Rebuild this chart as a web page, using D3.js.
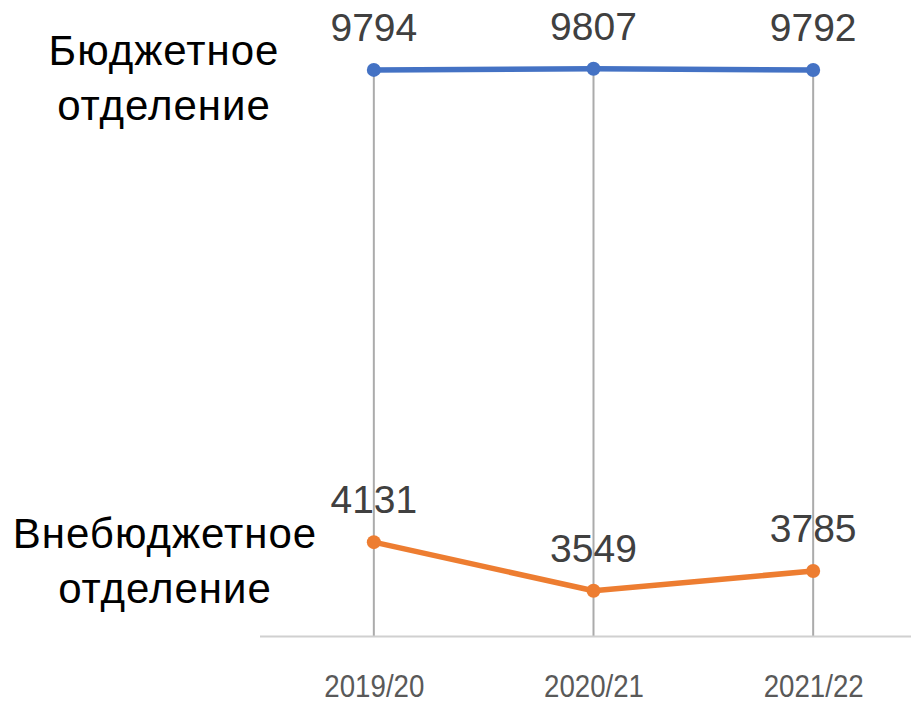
<!DOCTYPE html>
<html><head><meta charset="utf-8">
<script src="https://cdn.jsdelivr.net/npm/d3@7"></script>
<style>html,body{margin:0;padding:0;background:#fff;}svg{display:block;}</style>
</head><body>
<svg id="chart" width="911" height="702"></svg>
<script>
const categories = ["2019/20", "2020/21", "2021/22"];
const budgetValues = [9794, 9807, 9792];
const paidValues = [4131, 3549, 3785];
const seriesNames = [["Бюджетное", "отделение"], ["Внебюджетное", "отделение"]];
const seriesColors = ["#4472C4", "#ED7D31"];
const yDomain = [3000, 10000];

const svg = d3.select("#chart");
const font = "'Liberation Sans', Arial, sans-serif";
const x = d3.scalePoint().domain(categories).range([264, 923]).padding(0.5);
const y = d3.scaleLinear().domain(yDomain).range([636.5, 52.7]);

const series = [
  {name: seriesNames[0], values: budgetValues, color: seriesColors[0]},
  {name: seriesNames[1], values: paidValues, color: seriesColors[1]}
];

// drop lines: from highest point down to axis
categories.forEach((c, i) => {
  const top = d3.max(series, s => s.values[i]);
  svg.append("line")
    .attr("x1", x(c)).attr("x2", x(c))
    .attr("y1", y(top)).attr("y2", y(yDomain[0]))
    .attr("stroke", "#ababab").attr("stroke-width", 2);
});

// x axis
const xAxis = d3.axisBottom(x).tickSize(0).tickPadding(0);
const gx = svg.append("g").attr("transform", `translate(0,${y(yDomain[0])})`).call(xAxis);
gx.select(".domain").remove();
gx.selectAll("text")
  .attr("font-family", font).attr("font-size", 32).attr("fill", "#595959")
  .attr("dy", null).attr("y", 60)
  .attr("textLength", 100).attr("lengthAdjust", "spacingAndGlyphs");
svg.append("line")
  .attr("x1", 260).attr("x2", 911)
  .attr("y1", y(yDomain[0])).attr("y2", y(yDomain[0]))
  .attr("stroke", "#d0d0d0").attr("stroke-width", 2);

const line = d3.line().x((d, i) => x(categories[i])).y(d => y(d));

series.forEach(s => {
  svg.append("path").datum(s.values)
    .attr("d", line).attr("fill", "none")
    .attr("stroke", s.color).attr("stroke-width", 5.5)
    .attr("stroke-linejoin", "round");
  svg.selectAll(null).data(s.values).enter().append("circle")
    .attr("cx", (d, i) => x(categories[i])).attr("cy", d => y(d))
    .attr("r", 7).attr("fill", s.color);
  svg.selectAll(null).data(s.values).enter().append("text")
    .attr("x", (d, i) => x(categories[i])).attr("y", d => y(d) - 29)
    .attr("text-anchor", "middle")
    .attr("font-family", font).attr("font-size", 39).attr("fill", "#404040")
    .text(d => d);
});

// series labels on the left
const labelPos = [{cx: 164, y0: 65}, {cx: 165, y0: 548}];
series.forEach((s, k) => {
  const t = svg.append("text")
    .attr("text-anchor", "middle")
    .attr("font-family", font).attr("font-size", 42).attr("letter-spacing", 1)
    .attr("fill", "#000");
  s.name.forEach((ln, j) => {
    t.append("tspan").attr("x", labelPos[k].cx).attr("y", labelPos[k].y0 + j * 55).text(ln);
  });
});
</script>
</body></html>
